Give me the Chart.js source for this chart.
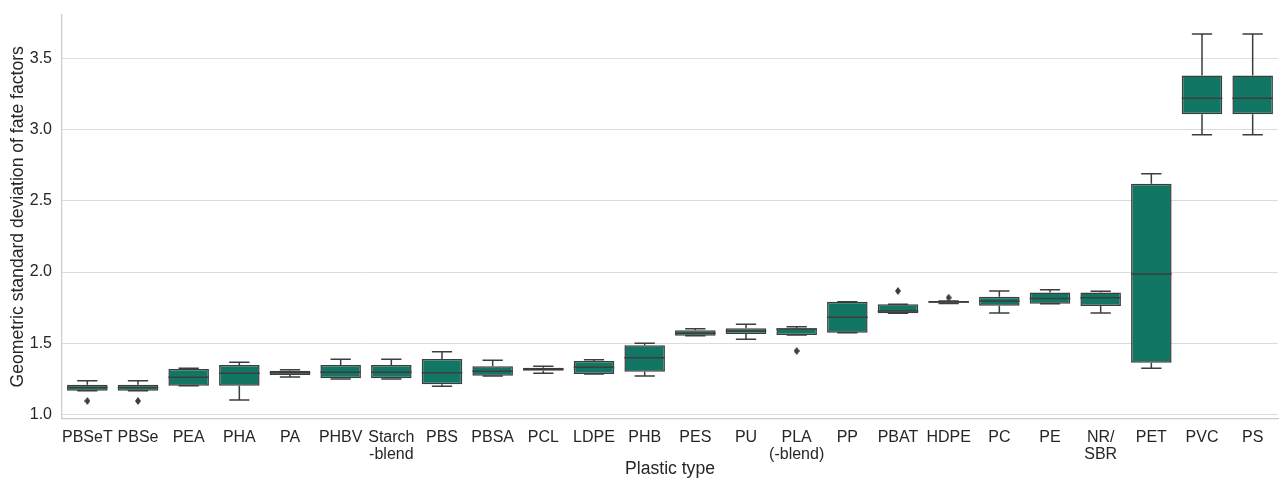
<!DOCTYPE html>
<html lang="en">
<head>
  <meta charset="UTF-8">
  <title>Geometric standard deviation of fate factors by plastic type</title>
  <script src="https://cdn.jsdelivr.net/npm/chart.js@4.4.1/dist/chart.umd.min.js"></script>
  <style>
    html, body { margin: 0; padding: 0; background: #ffffff; overflow: hidden; }
    .chart-container { position: relative; width: 1283px; height: 480px; }
  </style>
</head>
<body>
  <div class="chart-container">
    <canvas id="boxChart" width="1283" height="480"></canvas>
  </div>

  <script>
    // categories (multi-line labels as arrays)
    const plasticTypes = ['PBSeT', 'PBSe', 'PEA', 'PHA', 'PA', 'PHBV', ['Starch', '-blend'], 'PBS', 'PBSA', 'PCL',
      'LDPE', 'PHB', 'PES', 'PU', ['PLA', '(-blend)'], 'PP', 'PBAT', 'HDPE', 'PC', 'PE', ['NR/', 'SBR'], 'PET', 'PVC', 'PS'];

    // box plot statistics
    const whiskerLow  = [1.167, 1.167, 1.202, 1.102, 1.263, 1.250, 1.250, 1.198, 1.270, 1.289, 1.284, 1.270,
      1.553, 1.528, 1.558, 1.574, 1.710, 1.780, 1.712, 1.778, 1.712, 1.324, 2.964, 2.964];
    const q1          = [1.167, 1.167, 1.202, 1.202, 1.277, 1.254, 1.254, 1.212, 1.272, 1.307, 1.284, 1.300,
      1.553, 1.565, 1.558, 1.574, 1.710, 1.785, 1.764, 1.778, 1.761, 1.364, 3.107, 3.107];
    const median      = [1.190, 1.190, 1.261, 1.289, 1.293, 1.296, 1.296, 1.293, 1.303, 1.319, 1.331, 1.399,
      1.570, 1.586, 1.600, 1.682, 1.726, 1.790, 1.796, 1.815, 1.820, 1.986, 3.219, 3.219];
    const q3          = [1.209, 1.209, 1.319, 1.347, 1.307, 1.347, 1.347, 1.389, 1.338, 1.328, 1.375, 1.486,
      1.591, 1.605, 1.605, 1.792, 1.773, 1.796, 1.827, 1.857, 1.857, 2.620, 3.380, 3.380];
    const whiskerHigh = [1.237, 1.237, 1.324, 1.366, 1.314, 1.387, 1.387, 1.441, 1.380, 1.338, 1.385, 1.500,
      1.602, 1.633, 1.616, 1.792, 1.773, 1.796, 1.867, 1.876, 1.865, 2.690, 3.670, 3.670];
    const outliers    = [1.095, 1.095, null, null, null, null, null, null, null, null, null, null,
      null, null, 1.446, null, 1.867, 1.820, null, null, null, null, null, null];

    const yTicks = [1.0, 1.5, 2.0, 2.5, 3.0, 3.5];

    const boxColor = '#127664';
    const lineColor = '#3d3d3d';
    const spineColor = '#cccccc';

    // thin diamond marker like matplotlib's 'd'
    const diamond = document.createElement('canvas');
    diamond.width = 6;
    diamond.height = 8;
    const dctx = diamond.getContext('2d');
    dctx.fillStyle = lineColor;
    dctx.beginPath();
    dctx.moveTo(3, 0);
    dctx.lineTo(6, 4);
    dctx.lineTo(3, 8);
    dctx.lineTo(0, 4);
    dctx.closePath();
    dctx.fill();

    // whiskers + caps behind the boxes, medians on top
    const boxParts = {
      id: 'boxParts',
      beforeDatasetsDraw(chart) {
        const ctx = chart.ctx;
        const x = chart.scales.x;
        const y = chart.scales.y;
        const meta = chart.getDatasetMeta(1);
        ctx.save();
        ctx.strokeStyle = lineColor;
        ctx.lineWidth = 1.5;
        meta.data.forEach((bar, i) => {
          const cx = x.getPixelForValue(i);
          const half = bar.width / 4;
          ctx.beginPath();
          ctx.moveTo(cx, y.getPixelForValue(q3[i]));
          ctx.lineTo(cx, y.getPixelForValue(whiskerHigh[i]));
          ctx.moveTo(cx - half, y.getPixelForValue(whiskerHigh[i]));
          ctx.lineTo(cx + half, y.getPixelForValue(whiskerHigh[i]));
          ctx.moveTo(cx, y.getPixelForValue(q1[i]));
          ctx.lineTo(cx, y.getPixelForValue(whiskerLow[i]));
          ctx.moveTo(cx - half, y.getPixelForValue(whiskerLow[i]));
          ctx.lineTo(cx + half, y.getPixelForValue(whiskerLow[i]));
          ctx.stroke();
        });
        ctx.restore();
      },
      afterDatasetsDraw(chart) {
        const ctx = chart.ctx;
        const x = chart.scales.x;
        const y = chart.scales.y;
        const meta = chart.getDatasetMeta(1);
        ctx.save();
        ctx.strokeStyle = lineColor;
        ctx.lineWidth = 1.5;
        meta.data.forEach((bar, i) => {
          const cx = x.getPixelForValue(i);
          const half = bar.width / 2;
          const my = y.getPixelForValue(median[i]);
          ctx.beginPath();
          ctx.moveTo(cx - half, my);
          ctx.lineTo(cx + half, my);
          ctx.stroke();
        });
        ctx.restore();
      }
    };

    const ctx = document.getElementById('boxChart').getContext('2d');

    new Chart(ctx, {
      data: {
        labels: plasticTypes,
        datasets: [
          {
            type: 'line',
            data: outliers,
            showLine: false,
            pointStyle: diamond,
            pointRadius: 3,
            order: 0
          },
          {
            type: 'bar',
            data: q1.map((v, i) => [v, q3[i]]),
            backgroundColor: boxColor,
            borderColor: lineColor,
            borderWidth: 1.5,
            borderSkipped: false,
            barPercentage: 0.8,
            categoryPercentage: 1.0,
            order: 1
          }
        ]
      },
      options: {
        responsive: false,
        animation: false,
        devicePixelRatio: 1,
        layout: { padding: { top: 15, left: 0, right: 0, bottom: 0 } },
        plugins: {
          legend: { display: false },
          tooltip: { enabled: false }
        },
        scales: {
          x: {
            offset: true,
            grid: { display: false, drawTicks: false },
            border: { display: true, color: spineColor, width: 1.25 },
            ticks: {
              color: '#262626',
              padding: 11,
              maxRotation: 0,
              autoSkip: false,
              font: { family: '"Liberation Sans", Arial, sans-serif', size: 16, lineHeight: 1.05 }
            },
            title: {
              display: true,
              text: 'Plastic type',
              color: '#262626',
              padding: { top: 0, bottom: 0 },
              font: { family: '"Liberation Sans", Arial, sans-serif', size: 17.6 }
            },
            afterFit(scale) {
              scale.height = 61.5;
              scale.paddingLeft = 0;
              scale.paddingRight = 0;
            }
          },
          y: {
            min: 0.972,
            max: 3.804,
            grid: { color: '#dcdcdc', lineWidth: 1, drawTicks: false },
            border: { display: true, color: spineColor, width: 1.25 },
            afterBuildTicks(scale) { scale.ticks = yTicks.map(v => ({ value: v })); },
            ticks: {
              color: '#262626',
              padding: 10,
              font: { family: '"Liberation Sans", Arial, sans-serif', size: 16 },
              callback: v => v.toFixed(1)
            },
            title: {
              display: true,
              text: 'Geometric standard deviation of fate factors',
              color: '#262626',
              padding: { top: 8, bottom: 0 },
              font: { family: '"Liberation Sans", Arial, sans-serif', size: 17.6 }
            },
            afterFit(scale) {
              scale.width = 62;
              scale.paddingTop = 0;
              scale.paddingBottom = 0;
            }
          }
        }
      },
      plugins: [boxParts]
    });
  </script>
</body>
</html>
